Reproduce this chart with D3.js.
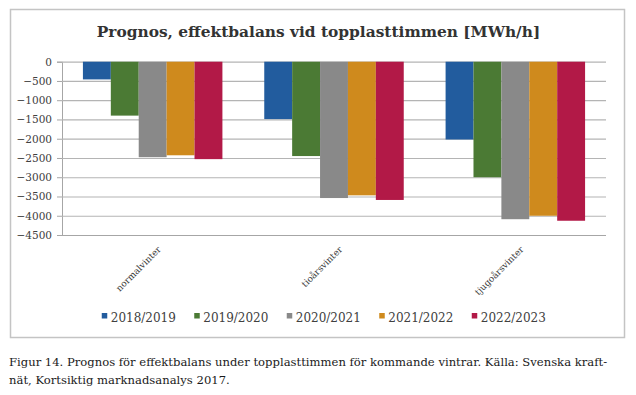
<!DOCTYPE html>
<html>
<head>
<meta charset="utf-8">
<script src="https://cdn.jsdelivr.net/npm/d3@7"></script>
<style>
    body { margin: 0; background: #fff; }
    text { font-family: "DejaVu Serif", "Liberation Serif", serif; }
</style>
</head>
<body>
<div id="chart-area"></div>
<script>

// categories (winter types) and forecast seasons
let winters = ["normalvinter", "tioårsvinter", "tjugoårsvinter"];
let seasons = ["2018/2019", "2019/2020", "2020/2021", "2021/2022", "2022/2023"];

// power balance in MWh/h, one array per season (normal, tio, tjugo)
let values2018 = [-460, -1490, -2020];
let values2019 = [-1400, -2450, -3000];
let values2020 = [-2480, -3540, -4090];
let values2021 = [-2430, -3470, -4000];
let values2022 = [-2530, -3590, -4130];

let yTicks = [0, -500, -1000, -1500, -2000, -2500, -3000, -3500, -4000, -4500];
let seasonColors = ["#225c9e", "#4b7a34", "#898989", "#cf8a1d", "#b21947"];

let titleText = "Prognos, effektbalans vid topplasttimmen [MWh/h]";
let captionLines = [
    "Figur 14. Prognos för effektbalans under topplasttimmen för kommande vintrar. Källa: Svenska kraft-",
    "nät, Kortsiktig marknadsanalys 2017."
];


class BalanceVis {

    constructor(_parentElement) {
        this.parentElement = _parentElement;
        this.series = [values2018, values2019, values2020, values2021, values2022];
        this.initVis();
    }

    initVis() {
        let vis = this;

        vis.margin = { top: 61.7, right: 30, bottom: 160, left: 62 };
        vis.width = 606 - vis.margin.left;
        vis.height = 235 - vis.margin.top;

        vis.root = d3.select("#" + vis.parentElement).append("svg")
            .attr("width", 636)
            .attr("height", 395);

        // outer frame of the chart
        vis.root.append("rect")
            .attr("x", 10.5).attr("y", 9.5)
            .attr("width", 614).attr("height", 328)
            .attr("fill", "none")
            .attr("stroke", "#c4c4c4")
            .attr("stroke-width", 1.5);

        vis.root.append("text")
            .attr("x", 318.5)
            .attr("y", 37)
            .attr("text-anchor", "middle")
            .attr("font-size", 15.4)
            .attr("font-weight", "bold")
            .attr("fill", "#333")
            .text(titleText);

        vis.svg = vis.root.append("g")
            .attr("transform", "translate(" + vis.margin.left + "," + vis.margin.top + ")");

        // scales
        let gap = 1.5 / 6.5;
        vis.x0 = d3.scaleBand()
            .domain(winters)
            .range([0, vis.width])
            .paddingInner(gap)
            .paddingOuter(gap / 2);

        vis.x1 = d3.scaleBand()
            .domain(seasons)
            .range([0, vis.x0.bandwidth()]);

        vis.y = d3.scaleLinear()
            .domain([-4500, 0])
            .range([vis.height, 0]);

        vis.wrangleData();
    }

    wrangleData() {
        let vis = this;

        vis.displayData = [];
        winters.forEach((w, i) => {
            seasons.forEach((s, j) => {
                vis.displayData.push({ winter: w, season: s, value: vis.series[j][i], color: seasonColors[j] });
            });
        });

        vis.updateVis();
    }

    updateVis() {
        let vis = this;

        // gridlines + y axis
        vis.yAxis = d3.axisLeft(vis.y)
            .tickValues(yTicks)
            .tickFormat(d3.format("d"))
            .tickSize(5)
            .tickPadding(5);

        let yG = vis.svg.append("g").attr("class", "y-axis").call(vis.yAxis);
        yG.select(".domain").attr("stroke", "#a6a6a6");
        yG.selectAll(".tick line").attr("stroke", "#a6a6a6");
        yG.selectAll(".tick text")
            .attr("font-size", 10.5)
            .attr("fill", "#404040")
            .style("font-family", "'DejaVu Serif', serif");

        vis.svg.selectAll(".grid-line")
            .data(yTicks)
            .enter()
            .append("line").attr("class", "grid-line")
            .attr("x1", 0)
            .attr("x2", vis.width)
            .attr("y1", d => vis.y(d) + 0.5)
            .attr("y2", d => vis.y(d) + 0.5)
            .attr("stroke", d => d === -4500 ? "#a6a6a6" : "#b4b4b4")
            .attr("stroke-width", 1.2);

        // bars
        vis.svg.selectAll(".bar")
            .data(vis.displayData)
            .enter()
            .append("rect").attr("class", "bar")
            .attr("x", d => vis.x0(d.winter) + vis.x1(d.season))
            .attr("y", vis.y(0))
            .attr("width", vis.x1.bandwidth())
            .attr("height", d => vis.y(d.value) - vis.y(0))
            .attr("fill", d => d.color);

        // rotated category labels
        vis.svg.selectAll(".cat-label")
            .data(winters)
            .enter()
            .append("text").attr("class", "cat-label")
            .attr("text-anchor", "end")
            .attr("font-size", 9)
            .attr("fill", "#404040")
            .attr("transform", d => "translate(" + (vis.x0(d) + vis.x0.bandwidth() / 2 + 9) + "," + (vis.height + 15) + ") rotate(-45)")
            .text(d => d);

        // legend
        let itemStep = 92.5;
        let legendX = 320 - (seasons.length * itemStep - 26) / 2;
        let legend = vis.root.append("g")
            .attr("transform", "translate(" + legendX + ",322)");

        let items = legend.selectAll(".legend-item")
            .data(seasons)
            .enter()
            .append("g").attr("class", "legend-item")
            .attr("transform", (d, i) => "translate(" + (i * itemStep) + ",0)");

        items.append("rect")
            .attr("x", 0).attr("y", -9)
            .attr("width", 5.5).attr("height", 5.5)
            .attr("fill", (d, i) => seasonColors[i]);

        items.append("text")
            .attr("x", 9)
            .attr("font-size", 12)
            .attr("fill", "#404040")
            .text(d => d);

        // figure caption under the frame
        vis.root.selectAll(".caption")
            .data(captionLines)
            .enter()
            .append("text").attr("class", "caption")
            .attr("x", 9)
            .attr("y", (d, i) => 366 + i * 18)
            .attr("font-size", 11.6)
            .attr("fill", "#1a1a1a")
            .text(d => d);
    }
}

new BalanceVis("chart-area");

</script>
</body>
</html>
